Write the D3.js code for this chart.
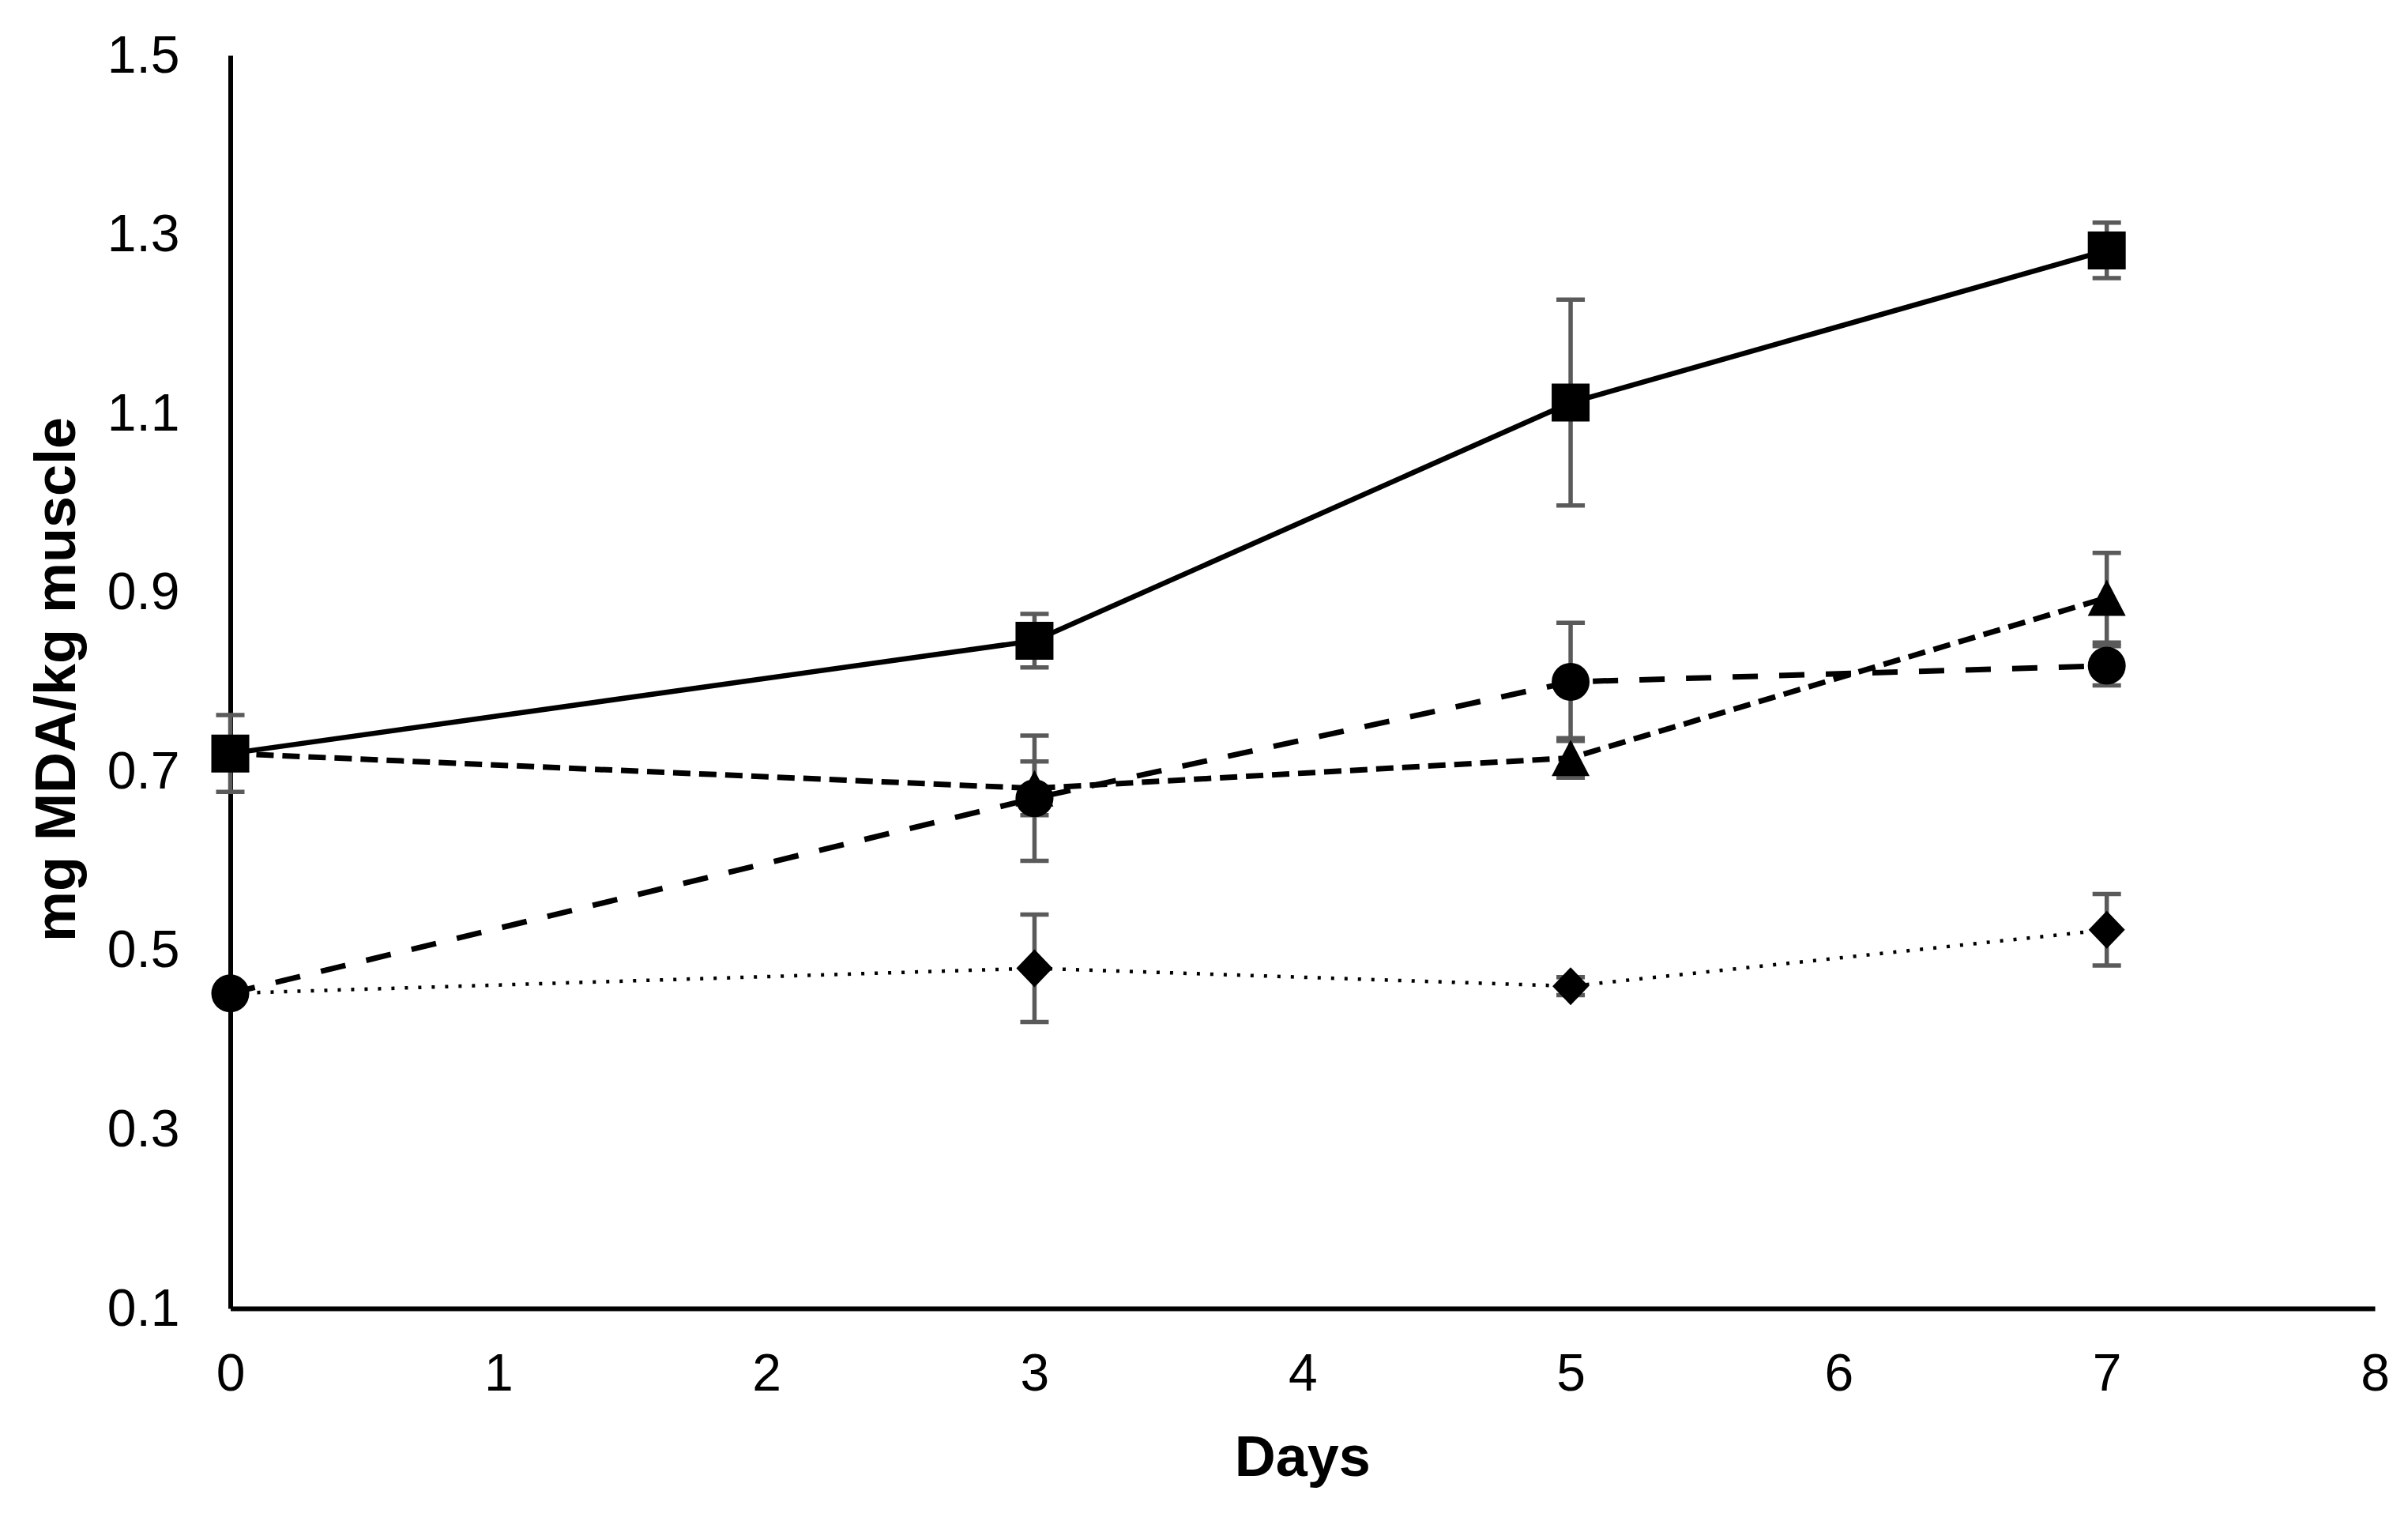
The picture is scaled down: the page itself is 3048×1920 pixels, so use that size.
<!DOCTYPE html>
<html>
<head>
<meta charset="utf-8">
<script src="https://cdnjs.cloudflare.com/ajax/libs/d3/7.8.5/d3.min.js"></script>
<style>
    body { margin: 0; background: #fff; }
    .tick text { font-family: "Liberation Sans", Arial, sans-serif; font-size: 66px; fill: #000; }
    .axis-title { font-family: "Liberation Sans", Arial, sans-serif; font-size: 72px; font-weight: bold; fill: #000; }
</style>
</head>
<body>
<div id="chart"></div>
<script>
// days on the x axis
var days = [0, 3, 5, 7];

// mean values and error (+/-) per series
var squareVals = [0.72, 0.846, 1.112, 1.282];
var squareErr = [0.043, 0.03, 0.115, 0.031];

var triangleVals = [0.72, 0.681, 0.715, 0.894];
var triangleErr = [0, 0.03, 0.022, 0.05];

var circleVals = [0.452, 0.67, 0.80, 0.818];
var circleErr = [0, 0.07, 0.066, 0.022];

var diamondVals = [0.452, 0.48, 0.46, 0.523];
var diamondErr = [0, 0.06, 0.01, 0.04];

// tick labels
var xTicks = [0, 1, 2, 3, 4, 5, 6, 7, 8];
var yTicks = [0.1, 0.3, 0.5, 0.7, 0.9, 1.1, 1.3, 1.5];

var outerWidth = 3048,
    outerHeight = 1920;

var x = d3.scaleLinear()
    .domain([0, 8])
    .range([291.5, 3006]);

var y = d3.scaleLinear()
    .domain([0.1, 1.5])
    .range([1656, 70]);

var svg = d3.select("#chart")
    .append("svg")
    .attr("width", outerWidth)
    .attr("height", outerHeight);

// marker shapes, drawn around 0,0
function marker_path(shape) {
    var h = 24;
    if (shape == "square") {
        return "M" + -h + "," + -h + "H" + h + "V" + h + "H" + -h + "Z";
    }
    if (shape == "triangle") {
        return "M0," + -23 + "L" + h + ",23L" + -h + ",23Z";
    }
    if (shape == "diamond") {
        return "M0," + -h + "L23,0L0," + h + "L-23,0Z";
    }
    return d3.symbol().type(d3.symbolCircle).size(Math.PI * h * h)();
}

// drawn bottom to top, so square sits over the rest at day 0
var series = [
    {name: "diamond", vals: diamondVals, err: diamondErr, width: 4.5, dash: "4 13"},
    {name: "triangle", vals: triangleVals, err: triangleErr, width: 7, dash: "22 11"},
    {name: "circle", vals: circleVals, err: circleErr, width: 7, dash: "32 27"},
    {name: "square", vals: squareVals, err: squareErr, width: 6.5, dash: null}
];

// X axis
var xAxis = d3.axisBottom(x)
    .tickValues(xTicks)
    .tickFormat(d3.format("d"))
    .tickSize(0)
    .tickSizeOuter(0)
    .tickPadding(57);

svg.append("g")
    .attr("class", "x axis")
    .attr("transform", "translate(0," + y(0.1) + ")")
    .call(xAxis);

// Y axis
var yAxis = d3.axisLeft(y)
    .tickValues(yTicks)
    .tickFormat(d3.format(".1f"))
    .tickSize(0)
    .tickSizeOuter(0)
    .tickPadding(64);

svg.append("g")
    .attr("class", "y axis")
    .attr("transform", "translate(" + x(0) + ",0)")
    .call(yAxis);

svg.selectAll(".axis .domain")
    .attr("stroke", "#000")
    .attr("stroke-width", 6);

svg.selectAll(".axis text")
    .attr("font-family", null)
    .attr("font-size", null);

// axis titles
svg.append("text")
    .attr("class", "axis-title")
    .attr("x", (x(0) + x(8)) / 2)
    .attr("y", 1868)
    .style("text-anchor", "middle")
    .text("Days");

svg.append("text")
    .attr("class", "axis-title")
    .attr("transform", "translate(95,860) rotate(-90)")
    .style("text-anchor", "middle")
    .text("mg MDA/kg muscle");

var line = d3.line()
    .x(function(d, i) { return x(days[i]); })
    .y(function(d) { return y(d); });

// lines
series.forEach(function(s) {
    svg.append("path")
        .datum(s.vals)
        .attr("class", "line line-" + s.name)
        .attr("fill", "none")
        .attr("stroke", "#000")
        .attr("stroke-width", s.width)
        .attr("stroke-dasharray", s.dash)
        .attr("d", line);
});

// error bars
series.forEach(function(s) {
    var bars = svg.append("g").attr("class", "err err-" + s.name)
        .selectAll("g")
        .data(s.vals.map(function(v, i) { return {day: days[i], v: v, e: s.err[i]}; })
            .filter(function(d) { return d.e > 0; }))
        .enter().append("g")
        .attr("stroke", "#5a5a5a")
        .attr("stroke-width", 5.5);

    bars.append("line")
        .attr("x1", function(d) { return x(d.day); })
        .attr("x2", function(d) { return x(d.day); })
        .attr("y1", function(d) { return y(d.v - d.e); })
        .attr("y2", function(d) { return y(d.v + d.e); });

    [-1, 1].forEach(function(sign) {
        bars.append("line")
            .attr("x1", function(d) { return x(d.day) - 18; })
            .attr("x2", function(d) { return x(d.day) + 18; })
            .attr("y1", function(d) { return y(d.v + sign * d.e); })
            .attr("y2", function(d) { return y(d.v + sign * d.e); });
    });
});

// markers
series.forEach(function(s) {
    svg.append("g").attr("class", "dots dots-" + s.name)
        .selectAll("path")
        .data(s.vals)
        .enter().append("path")
        .attr("d", marker_path(s.name))
        .attr("fill", "#000")
        .attr("transform", function(d, i) {
            return "translate(" + x(days[i]) + "," + y(d) + ")";
        });
});
</script>
</body>
</html>
